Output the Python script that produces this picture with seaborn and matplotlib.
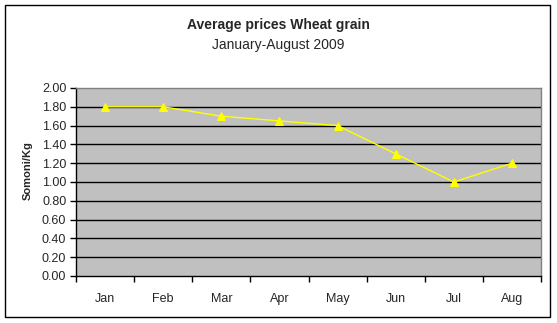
import matplotlib
matplotlib.use("Agg")
import matplotlib.pyplot as plt
import seaborn as sns
import pandas as pd
from matplotlib.patches import Rectangle

months = ["Jan", "Feb", "Mar", "Apr", "May", "Jun", "Jul", "Aug"]
prices = [1.80, 1.80, 1.70, 1.65, 1.60, 1.30, 1.00, 1.20]
yticks = [0.0, 0.2, 0.4, 0.6, 0.8, 1.0, 1.2, 1.4, 1.6, 1.8, 2.0]

sns.set_style("white")
plt.rcParams['font.family'] = ['Liberation Sans', 'DejaVu Sans']

W, H = 557, 323
fig = plt.figure(figsize=(W / 100, H / 100), dpi=100)
fig.patch.set_facecolor("white")
ax = fig.add_axes([76 / W, 1 - 276 / H, (541 - 76) / W, (276 - 88) / H])
ax.set_facecolor("#C0C0C0")

df = pd.DataFrame({"x": range(len(months)), "price": prices})
for y in yticks[1:-1]:
    ax.axhline(y, color="black", lw=1, zorder=1)
sns.lineplot(data=df, x="x", y="price", ax=ax, color="#FFFF00", lw=1,
             marker="^", markersize=6, markeredgecolor="#FFFF00", zorder=3)

ax.set_xlim(-0.5, len(months) - 0.5)
ax.set_ylim(0, 2.0)
ax.set_xticks([i - 0.5 for i in range(len(months) + 1)])
ax.set_xticklabels([])
ax.set_xticks(range(len(months)), minor=True)
ax.set_xticklabels(months, minor=True, fontsize=9)
ax.tick_params(axis="x", which="major", length=4, width=1, color="black", direction="out", bottom=True)
ax.tick_params(axis="x", which="minor", length=0, pad=12)
ax.set_yticks(yticks)
ax.set_yticklabels([f"{v:.2f}" for v in yticks], fontsize=9)
ax.tick_params(axis="y", length=4, width=1, color="black", direction="out", left=True, pad=3)

for s in ["left", "bottom"]:
    ax.spines[s].set_color("black")
    ax.spines[s].set_linewidth(1)
for s in ["top", "right"]:
    ax.spines[s].set_color("#808080")
    ax.spines[s].set_linewidth(1)

ax.set_xlabel("")
ax.set_ylabel("")
fig.text(28 / W, 1 - 171 / H, "Somoni/Kg", rotation=90, ha="center", va="center",
         fontsize=8, fontweight="bold")

fig.text(278 / W, 1 - 25 / H, "Average prices Wheat grain", ha="center", va="center",
         fontsize=10, fontweight="bold")
fig.text(278 / W, 1 - 45 / H, "January-August 2009", ha="center", va="center", fontsize=10)

fig.patches.append(Rectangle((5 / W, 1 - 317 / H), 545 / W, 312 / H, transform=fig.transFigure,
                             fill=False, edgecolor="black", lw=1))

fig.savefig("out.png", dpi=100)
